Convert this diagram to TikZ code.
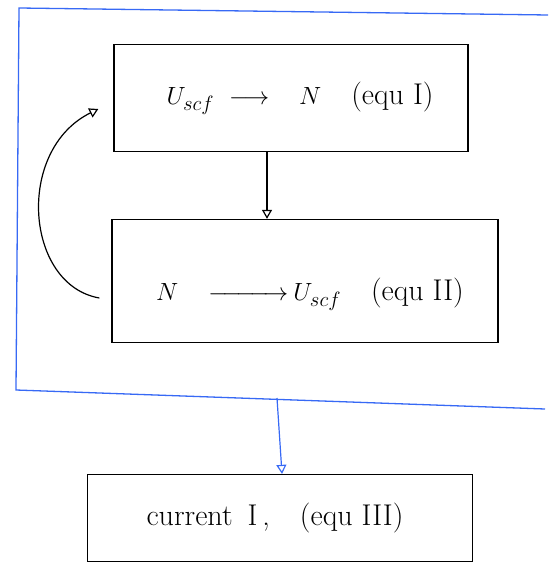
\documentclass[tikz,border=0pt]{standalone}
\usepackage{amsmath}
\usetikzlibrary{arrows.meta,calc}
\definecolor{frameblue}{RGB}{55,105,245}
\begin{document}
\begin{tikzpicture}[x=1pt,y=-1pt,
  stagebox/.style={draw=black,line width=1.3pt,inner sep=0pt},
  flow/.style={line width=1.2pt,-{Triangle[open,length=9pt,width=10pt]}},
  lbl/.style={font=\fontsize{30}{35}\selectfont}]
\useasboundingbox (0,0) rectangle (548,564);

% outer loop frame (open on the right)
\draw[frameblue,line width=1.3pt] (548,15) -- (19,8) -- (16,390) -- (545,409);

% the three stages
\node[stagebox,minimum width=354pt,minimum height=107pt] (box1) at (291,98) {};
\node[lbl] (t1) at (300,98) {$U_{scf}$\enspace$\longrightarrow$\quad$N$\quad(equ I)};

\node[stagebox,minimum width=386pt,minimum height=123pt] (box2) at (305,281) {};
\node[lbl] (t2) at (310,294) {$N$\quad$\xrightarrow{\hspace{64pt}}$\,$U_{scf}$\quad(equ II)};

\node[stagebox,minimum width=385pt,minimum height=87pt] (box3) at (280,518) {};
\node[lbl] (t3) at (275,518) {current\enspace I\,,\quad(equ III)};

% step from stage one to stage two
\coordinate (m) at (267,0);
\draw[flow] (box1.south -| m) -- (box2.north -| m);

% feedback loop back to stage one
\coordinate (fbstart) at ($(box2.west)+(-12,17)$);
\coordinate (fbend) at ($(box1.west)+(-15,11)$);
\draw[flow] (fbstart) .. controls (25,285) and (15,150) .. (fbend);

% result leaving the loop
\coordinate (out) at (277,398);
\draw[flow,frameblue] (out) -- ($(box3.north)+(2,0)$);
\end{tikzpicture}
\end{document}
